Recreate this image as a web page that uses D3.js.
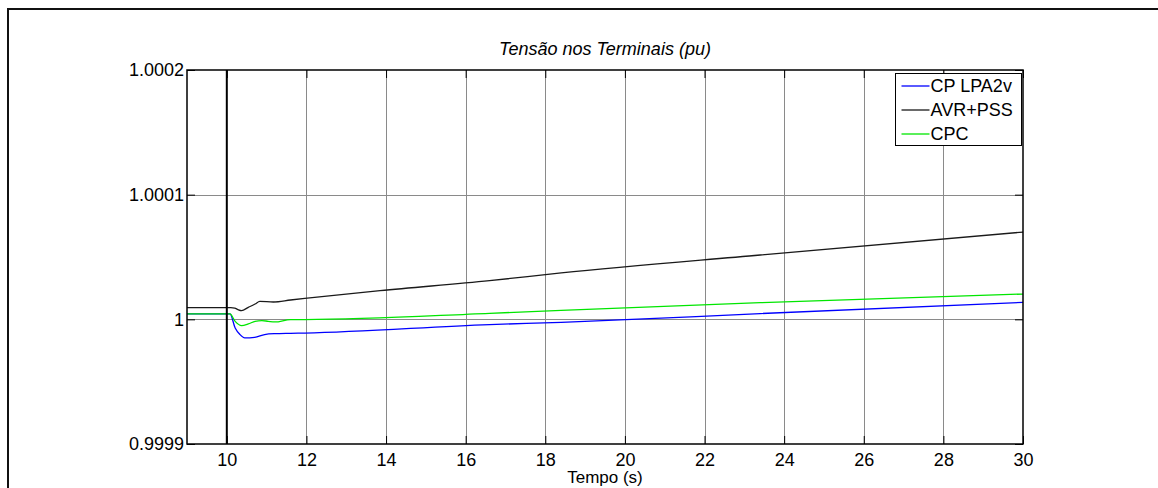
<!DOCTYPE html>
<html>
<head>
<meta charset="utf-8">
<script src="https://cdn.jsdelivr.net/npm/d3@7"></script>
<style>
  body { margin: 0; background: #fff; }
  text { font-family: "Liberation Sans", Arial, sans-serif; }
</style>
</head>
<body>
<div id="chart"></div>
<script>
var width = 1158;
var height = 488;

// eixo x / eixo y
var xTicks = [10, 12, 14, 16, 18, 20, 22, 24, 26, 28, 30];
var yTicks = [0.9999, 1, 1.0001, 1.0002];
var yTickLabels = ["0.9999", "1", "1.0001", "1.0002"];

// series (tempo em s, tensao em pu)
var tCP = [9, 10.08, 10.21, 10.33, 10.45, 10.7, 10.95, 11.2, 11.6, 11.96, 16.6, 18.4, 23.4, 30];
var vCP = [1.0000043, 1.0000043, 0.9999931, 0.9999878, 0.9999851, 0.9999856, 0.9999878, 0.9999885,
           0.9999888, 0.999989, 0.9999958, 0.9999976, 1.0000046, 1.0000136];

var tAVR = [9, 10.1, 10.2, 10.28, 10.37, 10.54, 10.71, 10.83, 11.17, 11.6, 11.96, 13.85, 16.6, 18.4, 23.4, 30];
var vAVR = [1.0000094, 1.0000094, 1.000009, 1.0000078, 1.000007, 1.0000096, 1.0000123, 1.0000144,
            1.0000139, 1.0000155, 1.0000168, 1.000023, 1.000031, 1.0000372, 1.0000516, 1.00007];

var tCPC = [9, 10.08, 10.21, 10.37, 10.54, 10.71, 10.88, 11.04, 11.21, 11.6, 11.96, 16.6, 18.4, 23.4, 30];
var vCPC = [1.0000043, 1.0000043, 0.9999984, 0.999995, 0.9999963, 0.9999984, 0.999999, 0.9999984,
            0.9999979, 0.9999998, 0.9999998, 1.0000048, 1.0000072, 1.0000134, 1.0000203];

var seriesNames = ["CP LPA2v", "AVR+PSS", "CPC"];
var seriesColors = ["#0000ff", "#1a1a1a", "#00e600"];

var data = [
  {name: seriesNames[0], t: tCP, v: vCP},
  {name: seriesNames[1], t: tAVR, v: vAVR},
  {name: seriesNames[2], t: tCPC, v: vCPC}
];

/* Scales */
var xScale = d3.scaleLinear().domain([9, 30]).range([187, 1023]);
var yScale = d3.scaleLinear().domain([0.9999, 1.0002]).range([444, 70]);

var svg = d3.select("#chart").append("svg")
  .attr("width", width)
  .attr("height", height);

// moldura externa
svg.append("rect")
  .attr("x", 8).attr("y", 9)
  .attr("width", 1170).attr("height", 500)
  .attr("fill", "none")
  .attr("stroke", "#111")
  .attr("stroke-width", 2);

svg.append("rect")
  .attr("x", xScale(9)).attr("y", yScale(1.0002))
  .attr("width", xScale(30) - xScale(9))
  .attr("height", yScale(0.9999) - yScale(1.0002))
  .attr("fill", "#fff");

/* grid */
var grid = svg.append("g").attr("class", "grid");
grid.selectAll(".vgrid")
  .data(xTicks.filter(d => d > 10 && d < 30)).enter()
  .append("line")
  .attr("x1", d => Math.round(xScale(d)) + 0.5)
  .attr("x2", d => Math.round(xScale(d)) + 0.5)
  .attr("y1", yScale(1.0002))
  .attr("y2", yScale(0.9999))
  .attr("stroke", "#8a8a8a")
  .attr("stroke-width", 1);
grid.selectAll(".hgrid")
  .data(yTicks.filter(d => d > 0.9999 && d < 1.0002)).enter()
  .append("line")
  .attr("x1", xScale(9))
  .attr("x2", xScale(30))
  .attr("y1", d => Math.round(yScale(d)) + 0.5)
  .attr("y2", d => Math.round(yScale(d)) + 0.5)
  .attr("stroke", "#8a8a8a")
  .attr("stroke-width", 1);

/* linhas */
var line = d3.line()
  .x((d, i) => xScale(d[0]))
  .y(d => yScale(d[1]))
  .curve(d3.curveMonotoneX);

svg.append("g").selectAll("path")
  .data(data).enter()
  .append("path")
  .attr("d", d => line(d.t.map((t, i) => [t, d.v[i]])))
  .attr("fill", "none")
  .attr("stroke", (d, i) => seriesColors[i])
  .attr("stroke-width", 1.3);

// linha do defeito em t = 10
svg.append("line")
  .attr("x1", xScale(10)).attr("x2", xScale(10))
  .attr("y1", yScale(1.0002)).attr("y2", yScale(0.9999))
  .attr("stroke", "#000")
  .attr("stroke-width", 2);

/* eixos */
function styleAxis(g) {
  g.select(".domain").remove();
  g.selectAll(".tick line").attr("stroke", "#000");
  g.selectAll("text")
    .attr("fill", "#000")
    .style("font-size", "18px")
    .style("font-family", "'Liberation Sans', Arial, sans-serif");
}

svg.append("g")
  .attr("transform", `translate(0, ${yScale(0.9999)})`)
  .call(d3.axisBottom(xScale).tickValues(xTicks).tickFormat(d3.format("d")).tickSize(-8).tickPadding(9))
  .call(styleAxis);

svg.append("g")
  .attr("transform", `translate(0, ${yScale(1.0002)})`)
  .call(d3.axisTop(xScale).tickValues(xTicks).tickFormat("").tickSize(-8))
  .call(styleAxis);

svg.append("g")
  .attr("transform", `translate(${xScale(9)}, 0)`)
  .call(d3.axisLeft(yScale).tickValues(yTicks).tickFormat((d, i) => yTickLabels[i]).tickSize(-8).tickPadding(3))
  .call(styleAxis);

svg.append("g")
  .attr("transform", `translate(${xScale(30)}, 0)`)
  .call(d3.axisRight(yScale).tickValues(yTicks).tickFormat("").tickSize(-8))
  .call(styleAxis);

svg.append("rect")
  .attr("x", xScale(9)).attr("y", yScale(1.0002))
  .attr("width", xScale(30) - xScale(9))
  .attr("height", yScale(0.9999) - yScale(1.0002))
  .attr("fill", "none")
  .attr("stroke", "#000")
  .attr("stroke-width", 1.5);

/* titulos */
svg.append("text")
  .attr("x", (xScale(9) + xScale(30)) / 2)
  .attr("y", 55)
  .attr("text-anchor", "middle")
  .style("font-size", "18px")
  .style("font-style", "italic")
  .text("Tensão nos Terminais (pu)");

svg.append("text")
  .attr("x", (xScale(9) + xScale(30)) / 2)
  .attr("y", 483)
  .attr("text-anchor", "middle")
  .style("font-size", "17px")
  .text("Tempo (s)");

/* legenda */
var legend = svg.append("g").attr("transform", "translate(895.5, 73.5)");
legend.append("rect")
  .attr("width", 126).attr("height", 72)
  .attr("fill", "#fff")
  .attr("stroke", "#000")
  .attr("stroke-width", 1);

var items = legend.selectAll(".item")
  .data(seriesNames).enter()
  .append("g")
  .attr("transform", (d, i) => `translate(0, ${12.5 + i * 24})`);
items.append("line")
  .attr("x1", 6).attr("x2", 34)
  .attr("stroke", (d, i) => seriesColors[i])
  .attr("stroke-width", 1.3);
items.append("text")
  .attr("x", 35)
  .attr("dy", "0.35em")
  .style("font-size", "18px")
  .text(d => d);
</script>
</body>
</html>
